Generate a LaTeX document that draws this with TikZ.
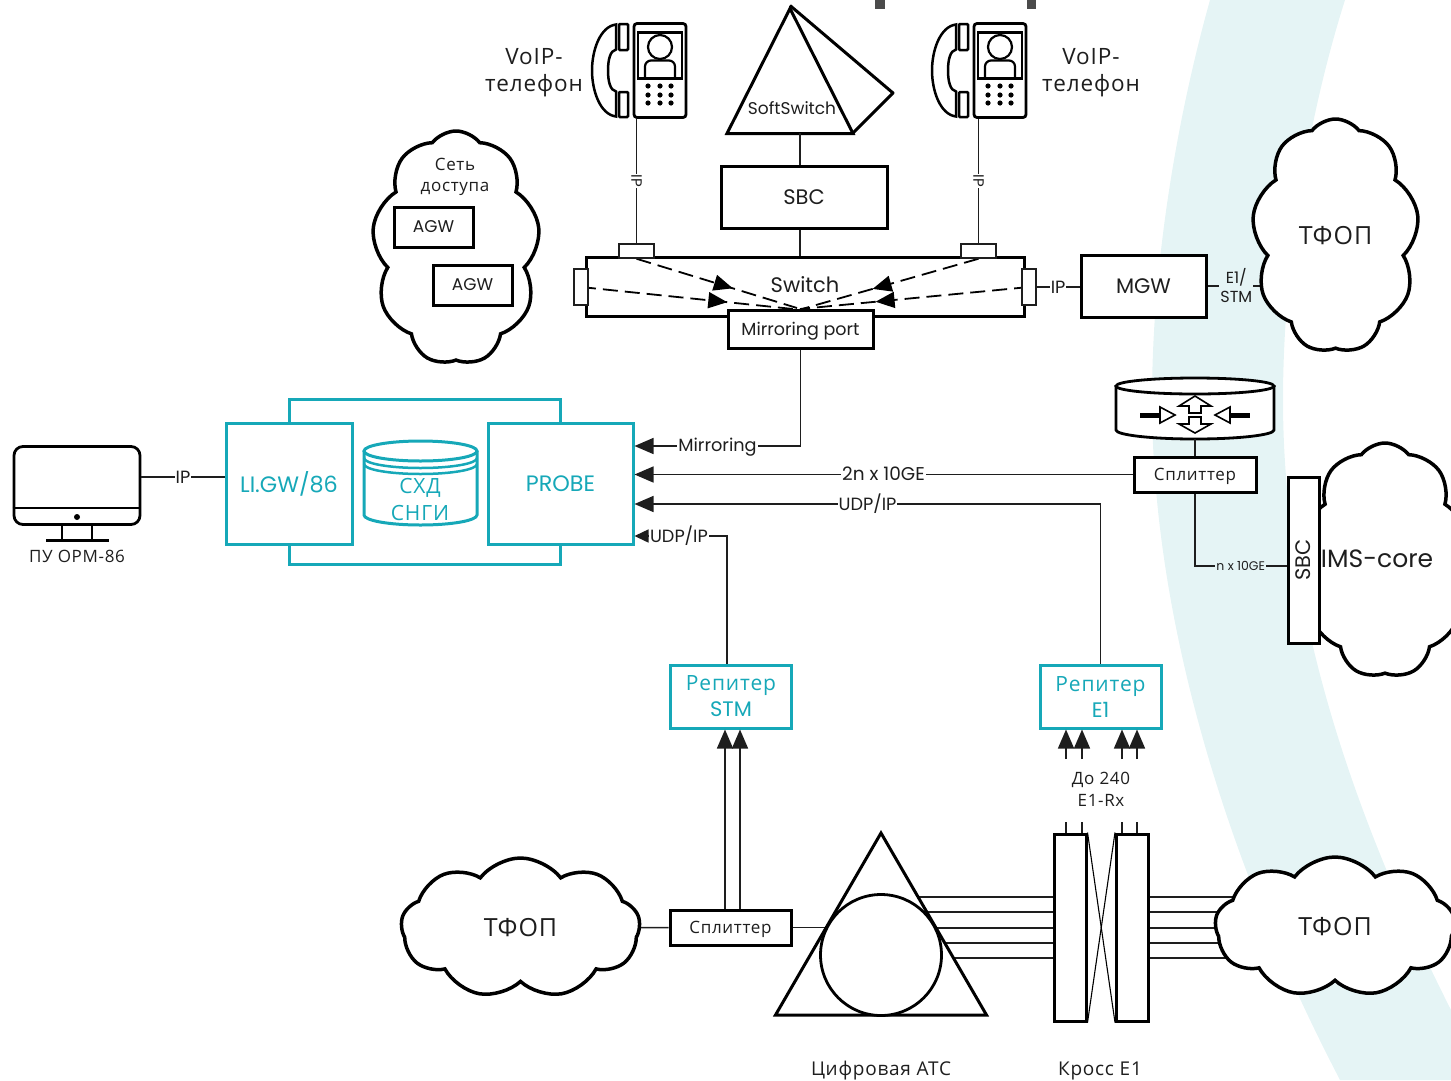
\documentclass[tikz,border=0pt]{standalone}
\usepackage{fontspec}
\setmainfont{Poppins}
\newfontfamily\cyr[LetterSpace=4]{Open Sans}
\usepackage{tikz}
\usetikzlibrary{shapes,arrows.meta,decorations.markings,backgrounds,calc}
\pgfdeclarelayer{top}
\pgfsetlayers{background,main,top}
\definecolor{tealc}{RGB}{22,168,184}
\definecolor{bandc}{RGB}{229,244,245}
\definecolor{inkc}{RGB}{30,30,30}
\newcommand{\fs}[2]{\fontsize{#1}{#2}\selectfont}

\begin{document}
\begin{tikzpicture}[
	x=1pt,y=-1pt,
	every node/.style={text=inkc,align=center,inner sep=0},
	>={Triangle[length=19pt,width=16pt]},
	ln/.style={line width=1.5pt,draw=inkc},
	bx/.style={draw=black,line width=3pt,fill=white,minimum width=#1},
	bx/.default=100pt,
	tt/.style={text height=12.5pt,text depth=1pt},
	tbx/.style={draw=tealc,line width=3pt,fill=white,text=tealc,minimum width=#1},
	cld/.style={cloud,draw=black,line width=3.5pt,fill=white,cloud puffs=#1,cloud puff arc=105},
	prt/.style={draw=inkc,line width=1.5pt,fill=white},
	lb/.style={fill=white,inner sep=1pt,font=\fs{17.7}{20}},
	tri/.style={isosceles triangle,draw=black,line width=3pt,fill=white,shape border rotate=90,isosceles triangle apex angle=60,isosceles triangle stretches,inner sep=0,anchor=apex},
	dsh/.style={line width=1.8pt,draw=black,dash pattern=on 15pt off 7pt,postaction={decorate},decoration={markings,mark=at position #1 with {\arrow{Triangle[length=19pt,width=16pt]}}}},
	phone/.pic={
		\node[draw=black,line width=2.8pt,rounded corners=3pt,fill=white,minimum width=52pt,minimum height=94pt] (-body) at (0,0) {};
		\draw[line width=2.2pt] (-22,-38) rectangle (22,8);
		\draw[line width=2.2pt] (0,-23.5) circle (12pt);
		\draw[line width=2.2pt,rounded corners=6pt] (-15,8) -- (-15,-10) -- (15,-10) -- (15,8);
		\foreach \xa in {-12,0,11}
			\foreach \ya in {15.5,24.5,32.5}
				\fill (\xa,\ya) circle (2.6pt);
		\draw[line width=2.5pt,rounded corners=1pt] (-41,-46.5) rectangle (-32,-20.5);
		\draw[line width=2.5pt,rounded corners=1pt] (-41,21.5) rectangle (-32,46.5);
		\draw[line width=2.5pt] (-44,-46) .. controls (-60,-44) and (-68,-20) .. (-68,0) .. controls (-68,20) and (-60,44) .. (-44,46) -- (-44,21) .. controls (-50,20) and (-52,10) .. (-52,0) .. controls (-52,-10) and (-50,-20) .. (-44,-21) -- cycle;
	},
]
\useasboundingbox (0,0) rectangle (1451,1080);

% nodes first, the thin lines go below them
\node[tbx=126pt,minimum height=121pt,font=\fs{22.3}{25}] (ligw) at (289,483.5) {LI.GW/86};
\node[tbx=145pt,minimum height=121pt,font=\fs{22.3}{25}] (probe) at (560.5,483.5) {PROBE};
\node[tbx=121pt,minimum height=63pt,font=\fs{21}{26}] (rstm) at (731,696.5) {\cyr Репитер\\STM};
\node[tbx=121pt,minimum height=63pt,font=\fs{21}{26}] (re1) at (1100.5,696.5) {\cyr Репитер\\E1};

\node[draw=black,line width=2.8pt,rounded corners=9pt,fill=white,minimum width=126pt,minimum height=78pt] (pc) at (77,485.5) {};
\node[font=\cyr\fs{17}{20}] (pcname) at (77,556) {ПУ ОРМ-86};

\node[bx=166pt,minimum height=62pt,font=\fs{21}{25}] (sbc) at (804,197) {SBC};
\node[bx=438pt,minimum height=59pt] (sw) at (805,286.5) {};
\node[font=\fs{21}{25}] (swname) at (805,285) {Switch};
\begin{pgfonlayer}{top}
	\node[bx=145pt,minimum height=38pt,tt,font=\fs{17.5}{20}] (mirr) at (800.5,329.5) {Mirroring port};
	\node[prt,minimum width=35pt,minimum height=14pt] (pl) at (636.5,251) {};
	\node[prt,minimum width=35pt,minimum height=14pt] (pr) at (978.5,251) {};
	\node[prt,minimum width=14pt,minimum height=36pt] (pw) at (581,287) {};
	\node[prt,minimum width=14pt,minimum height=36pt] (pe) at (1029,287) {};
\end{pgfonlayer}
\node[bx=125pt,minimum height=62pt,font=\fs{21}{25}] (mgw) at (1143.5,286) {MGW};

\node[bx=122pt,minimum height=35pt,tt,font=\cyr\fs{17}{20}] (spl1) at (1195,474.5) {Сплиттер};
\node[bx=121pt,minimum height=35pt,tt,font=\cyr\fs{17}{20}] (spl2) at (730.5,927.5) {Сплиттер};

\node[cld=9,aspect=.72,shape border rotate=-14,minimum width=168pt,minimum height=234pt] (acc) at (456,248) {};
\node[font=\cyr\fs{17}{21}] (accname) at (455,177) {Сеть\\доступа};
\node[bx=79pt,minimum height=40pt,font=\fs{17}{20}] (agw1) at (433.5,227) {AGW};
\node[bx=79pt,minimum height=40pt,font=\fs{17}{20}] (agw2) at (472.5,285) {AGW};

\node[cld=9,aspect=.72,shape border rotate=-14,minimum width=167pt,minimum height=234pt,font=\cyr\fs{25}{30}] (pstn1) at (1335.5,236) {ТФОП};
\node[cld=9,aspect=.72,shape border rotate=-14,minimum width=168pt,minimum height=235pt] (ims) at (1385,560.5) {};
\node[font=\fs{25}{28}] (imsname) at (1377,559) {IMS-core};
\node[draw=black,line width=3pt,fill=white,minimum width=31pt,minimum height=166pt] (sbc2) at (1303.5,560) {};
\node[rotate=90,font=\fs{21}{25}] (sbc2name) at (1303,560) {SBC};
\node[cld=9,aspect=1.7,shape border rotate=-14,minimum width=239pt,minimum height=140pt,font=\cyr\fs{25}{30}] (pstn2) at (520.5,928) {ТФОП};
\node[cld=9,aspect=1.7,shape border rotate=-14,minimum width=240pt,minimum height=140pt,font=\cyr\fs{25}{30}] (pstn3) at (1335,927) {ТФОП};

\node[tri,minimum width=211pt,minimum height=182pt] (atstri) at (881,830) {};
\node[circle,draw=black,line width=2.8pt,fill=white,minimum size=121pt] (ats) at (881,955) {};
\node[font=\cyr\fs{19}{23}] (atsname) at (881,1071) {Цифровая АТС};
\node[font=\cyr\fs{19}{23}] (crname) at (1100,1071) {Кросс Е1};
\node[bx=32pt,minimum height=187pt] (crl) at (1070,927.5) {};
\node[bx=32pt,minimum height=187pt] (crr) at (1132.5,927.5) {};

\pic (ph1) at (660,70.5) {phone};
\pic (ph2) at (1000,70.5) {phone};
\node[font=\cyr\fs{22.5}{27}] (ph1name) at (534,73) {VoIP-\\телефон};
\node[font=\cyr\fs{22.5}{27}] (ph2name) at (1091,73) {VoIP-\\телефон};

\node[tri,minimum width=126pt,minimum height=125pt] (soft) at (790,5.5) {};
\coordinate (softback) at (893,93);
\coordinate (softbase) at (800,133);
\draw[line width=3pt,line join=round] (soft.apex) -- (softback) -- (853,133);
\node[font=\fs{17}{20}] (softname) at (792,108) {SoftSwitch};

\begin{scope}[on background layer]
	\fill[bandc] (1210,0) .. controls (1175,125) and (1152,270) .. (1152,400) .. controls (1152,600) and (1215,840) .. (1340,1080)
		-- (1451,1080) -- (1451,1010) .. controls (1345,800) and (1283,600) .. (1283,400) .. controls (1283,260) and (1310,110) .. (1345,0) -- cycle;
	\foreach \ya in {897,912,928,943,958}{
		\draw[ln] (ats.center |- 0,\ya) -- (crl.center |- 0,\ya);
		\draw[ln] (crr.center |- 0,\ya) -- (pstn3.center |- 0,\ya);
	}
	\draw[ln] (pstn2.center) -- (spl2.west);
	\draw[ln] (spl2.east) -- (ats.center |- spl2.east);
\end{scope}

% top marks
\fill[inkc!80] (875,0) rectangle (885,9);
\fill[inkc!80] (1027,0) rectangle (1036,9);

% teal frame and storage
\draw[draw=tealc,line width=3pt] (ligw.north) -- ++(0,-22.5) -| (probe.north);
\draw[draw=tealc,line width=3pt] (ligw.south) -- ++(0,18.5) -| (probe.south);
\draw[draw=tealc,line width=3pt,fill=white] (364,451) -- (364,515) arc[start angle=180,end angle=360,x radius=56.5pt,y radius=10pt] -- (477,451);
\draw[draw=tealc,line width=3pt] (420.5,451) ellipse[x radius=56.5pt,y radius=10pt];
\draw[draw=tealc,line width=2.5pt] (364,458) arc[start angle=180,end angle=360,x radius=56.5pt,y radius=10pt];
\draw[draw=tealc,line width=2.5pt] (364,464) arc[start angle=180,end angle=360,x radius=56.5pt,y radius=10pt];
\node[text=tealc,font=\cyr\fs{21}{27}] (shd) at (420,499) {СХД\\СНГИ};

% monitor
\draw[line width=2.8pt] (pc.west |- 0,508) -- (pc.east |- 0,508);
\fill (pc.center |- 0,517) circle (3pt);
\draw[line width=2.5pt] (62,525) -- (62,540) (92,525) -- (92,540);
\draw[line width=3pt] (46,540.5) -- (109,540.5);
\draw[ln] (pc.east |- 0,477) -- node[lb] {IP} (ligw.west |- 0,477);

% phones and switch
\draw[ln] (pl.north) -- node[lb,rotate=-90,font=\fs{15}{17}] {IP} (pl.north |- ph1-body.south);
\draw[ln] (pr.north) -- node[lb,rotate=-90,font=\fs{15}{17}] {IP} (pr.north |- ph2-body.south);
\draw[ln] (softbase) -- (softbase |- sbc.north);
\draw[ln] (softbase |- sbc.south) -- (softbase |- sw.north);
\draw[dsh=.6] (pl.south) -- (797,308);
\draw[dsh=.69] (pw.center) -- (793,309);
\draw[dsh=.6] (pr.south) -- (802,309);
\draw[dsh=.67] (pe.center) -- (800,309);
\draw[ln] (pe.east) -- node[lb,fill=white] {IP} (mgw.west |- pe.east);
\begin{scope}[on background layer]
	\draw[ln] (mgw.east) -- node[lb,pos=.225,fill=bandc,font=\fs{16}{19}] {E1/\\STM} (pstn1.center |- mgw.east);
\end{scope}

% to the probe
\draw[ln,->] (mirr.south) |- node[lb,pos=.75,tt] {Mirroring} (probe.east |- 0,446);
\draw[ln,->] (spl1.west) -- node[lb,pos=.5,tt,font=\fs{18.5}{20}] {2n x 10GE} (probe.east |- spl1.west);
\draw[ln,->] (re1.north) |- node[lb,pos=.75] {UDP/IP} (probe.east |- 0,504);
\draw[ln,-{Triangle[length=14pt,width=13pt]}] (rstm.north -| 727,0) |- node[lb,pos=.76] {UDP/IP} (probe.east |- 0,536);

% router
\draw[line width=2.8pt,fill=white] (1116,385) -- (1116,430) arc[start angle=180,end angle=360,x radius=79pt,y radius=9pt] -- (1274,385);
\draw[line width=2.8pt,fill=white] (1195,386) ellipse[x radius=79pt,y radius=8pt];
\coordinate (rttop) at (1195,439);
\draw[line width=1.6pt,fill=white] (1195,396) -- (1211,406) -- (1201,406) -- (1201,413) -- (1189,413) -- (1189,406) -- (1179,406) -- cycle;
\draw[line width=1.6pt,fill=white] (1195,433) -- (1211,424) -- (1201,424) -- (1201,417) -- (1189,417) -- (1189,424) -- (1179,424) -- cycle;
\draw[line width=1.6pt,fill=white] (1175,415) -- (1160,407) -- (1160,423) -- cycle;
\draw[line width=1.6pt,fill=white] (1215,415) -- (1230,407) -- (1230,423) -- cycle;
\draw[line width=5pt] (1140,415) -- (1160,415) (1230,415) -- (1250,415);
\draw[ln] (rttop) -- (spl1.north);
\draw[ln] (spl1.south) |- node[lb,pos=.75,fill=bandc,font=\fs{12.5}{14}] {n x 10GE} (sbc2.west |- 0,566);

% repeaters
\foreach \xa in {725,740}
	\draw[ln,->] (\xa,0 |- spl2.north) -- (\xa,0 |- rstm.south);
\foreach \xa in {1066,1082,1122,1137}{
	\draw[ln,->] (\xa,759) -- (\xa,0 |- re1.south);
	\draw[ln] (\xa,822) -- (\xa,0 |- crl.north);
}
\node[font=\cyr\fs{17}{22}] (e1rx) at (1101,789) {До 240\\E1-Rx};
\draw[line width=1.1pt] (crl.north east) -- (crr.south west);
\draw[line width=1.1pt] (crr.north west) -- (crl.south east);
\end{tikzpicture}
\end{document}
